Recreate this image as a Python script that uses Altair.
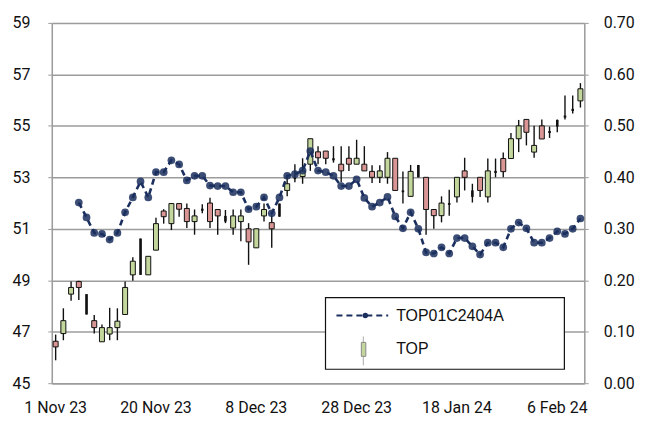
import altair as alt
import pandas as pd

# ---- data ----
dates = ["1 Nov 23", "2 Nov 23", "3 Nov 23", "6 Nov 23", "7 Nov 23", "8 Nov 23", "9 Nov 23", "10 Nov 23",
         "13 Nov 23", "14 Nov 23", "15 Nov 23", "16 Nov 23", "17 Nov 23", "20 Nov 23", "21 Nov 23", "22 Nov 23",
         "23 Nov 23", "24 Nov 23", "27 Nov 23", "28 Nov 23", "29 Nov 23", "30 Nov 23", "1 Dec 23", "4 Dec 23",
         "6 Dec 23", "7 Dec 23", "8 Dec 23", "12 Dec 23", "13 Dec 23", "14 Dec 23", "15 Dec 23", "18 Dec 23",
         "19 Dec 23", "20 Dec 23", "21 Dec 23", "22 Dec 23", "25 Dec 23", "26 Dec 23", "27 Dec 23", "28 Dec 23",
         "2 Jan 24", "3 Jan 24", "4 Jan 24", "5 Jan 24", "8 Jan 24", "9 Jan 24", "10 Jan 24", "11 Jan 24",
         "12 Jan 24", "15 Jan 24", "16 Jan 24", "17 Jan 24", "18 Jan 24", "19 Jan 24", "22 Jan 24", "23 Jan 24",
         "24 Jan 24", "25 Jan 24", "26 Jan 24", "29 Jan 24", "30 Jan 24", "31 Jan 24", "1 Feb 24", "2 Feb 24",
         "5 Feb 24", "6 Feb 24", "7 Feb 24", "8 Feb 24", "9 Feb 24"]

tick_labels = ["1 Nov 23", "20 Nov 23", "8 Dec 23", "28 Dec 23", "18 Jan 24", "6 Feb 24"]

opens = [46.63, 46.93, 48.46, 48.95, 48.46, 47.43, 46.61, 46.91, 47.16, 47.67,
         49.21, 50.62, 49.21, 50.17, 51.69, 51.20, 51.98, 51.79, 51.28, 51.78,
         52.00, 51.75, 51.50, 51.03, 51.28, 51.00, 50.26, 51.50, 51.24, 51.98,
         52.49, 53.00, 53.03, 53.51, 53.99, 54.02, 53.74, 53.51, 53.74, 53.51,
         53.51, 53.23, 53.00, 53.00, 53.74, 52.49, 52.26, 53.48, 53.00, 51.75,
         51.51, 52.00, 52.24, 53.25, 52.49, 53.00, 52.24, 53.25, 53.73, 53.73,
         54.50, 55.25, 53.98, 55.00, 54.80, 55.23, 55.40, 55.66, 55.97]
highs = [46.89, 47.91, 48.95, 48.98, 48.46, 47.65, 47.28, 47.93, 47.91, 48.95,
         49.89, 50.62, 49.93, 51.43, 51.76, 51.98, 51.98, 51.98, 51.75, 51.95,
         52.21, 51.75, 51.73, 51.75, 51.75, 51.22, 51.00, 51.98, 51.50, 51.98,
         53.00, 53.51, 53.74, 54.50, 54.21, 54.02, 54.21, 54.21, 54.21, 54.46,
         54.21, 53.47, 53.47, 53.98, 53.74, 53.23, 53.48, 53.48, 53.00, 51.75,
         52.26, 52.52, 53.00, 53.76, 52.75, 53.00, 53.73, 53.73, 53.96, 54.72,
         55.23, 55.25, 55.00, 55.25, 54.97, 55.25, 56.18, 56.18, 56.66]
lows = [45.89, 46.67, 48.20, 48.23, 47.67, 46.93, 46.60, 46.67, 46.67, 47.67,
        48.98, 49.21, 49.21, 50.17, 51.20, 50.95, 51.47, 51.03, 50.77, 51.60,
        51.03, 50.77, 51.22, 50.77, 50.52, 49.60, 50.26, 51.28, 50.26, 51.47,
        52.26, 52.81, 52.75, 53.25, 53.51, 53.51, 53.57, 52.81, 53.25, 53.51,
        53.25, 52.78, 52.78, 52.75, 52.49, 51.98, 52.26, 53.00, 50.77, 51.00,
        51.25, 51.51, 52.02, 52.49, 52.02, 52.24, 52.02, 53.00, 53.00, 53.73,
        53.98, 54.24, 53.76, 54.49, 54.53, 54.75, 55.25, 55.48, 55.71]
closes = [46.41, 47.43, 48.72, 48.72, 47.67, 47.16, 47.16, 47.16, 47.41, 48.72,
          49.74, 49.21, 49.93, 51.20, 51.47, 51.98, 51.76, 51.28, 51.50, 51.70,
          51.28, 51.50, 51.28, 51.50, 51.50, 50.49, 51.00, 51.75, 51.00, 51.47,
          52.75, 52.93, 53.25, 54.50, 53.76, 53.74, 53.66, 53.25, 53.51, 53.74,
          53.25, 53.00, 53.25, 53.74, 52.49, 52.42, 53.23, 53.00, 51.75, 51.51,
          52.00, 51.93, 53.00, 53.00, 52.24, 52.49, 53.25, 53.17, 53.22, 54.50,
          55.00, 54.75, 54.24, 54.49, 54.72, 54.97, 55.32, 55.58, 56.44]
moves = ["d", "u", "u", "d", "n", "d", "u", "u", "u", "u",
         "u", "n", "u", "u", "d", "u", "d", "d", "u", "n",
         "d", "d", "n", "u", "u", "d", "u", "u", "d", "n",
         "u", "n", "u", "u", "d", "d", "n", "d", "d", "u",
         "d", "d", "u", "u", "d", "n", "u", "n", "d", "d",
         "u", "n", "u", "d", "n", "d", "u", "n", "d", "u",
         "u", "d", "u", "d", "n", "n", "n", "n", "u"]
warrant = [None, None, None, 0.351, 0.322, 0.292, 0.290, 0.279, 0.292, 0.332,
           0.361, 0.392, 0.361, 0.410, 0.410, 0.433, 0.425, 0.394, 0.403, 0.403,
           0.384, 0.383, 0.383, 0.371, 0.371, 0.338, 0.343, 0.361, 0.330, 0.361,
           0.403, 0.406, 0.413, 0.451, 0.413, 0.410, 0.403, 0.383, 0.383, 0.396,
           0.360, 0.343, 0.351, 0.362, 0.324, 0.301, 0.332, 0.300, 0.254, 0.252,
           0.264, 0.252, 0.282, 0.282, 0.266, 0.250, 0.273, 0.273, 0.264, 0.300,
           0.312, 0.301, 0.273, 0.273, 0.282, 0.295, 0.290, 0.300, 0.320]

series_names = ["TOP01C2404A", "TOP"]

df = pd.DataFrame({"d": dates, "o": opens, "h": highs, "l": lows, "c": closes,
                   "m": moves, "w": warrant})

FONT_AX = "Roboto"
FONT_LG = "Liberation Sans"
GRID = "#9c9c9c"
NAVY = "#1b2f5e"
GREEN = "#c3d69b"
PINK = "#d99694"

W, H = 535, 362

x_enc = alt.X("d:O", sort=None,
              scale=alt.Scale(paddingInner=0, paddingOuter=0),
              axis=alt.Axis(values=tick_labels, labelAngle=0, ticks=False, title=None,
                            domainColor=GRID, domainWidth=1.5, labelPadding=16,
                            labelFont=FONT_AX, labelFontSize=16, labelColor="#111111"))

yl_scale = alt.Scale(domain=[45, 59], nice=False, zero=False)
yl_axis = alt.Axis(values=list(range(45, 60, 2)), title=None, grid=True, gridColor=GRID,
                   gridWidth=1.5, domainColor=GRID, domainWidth=1.5, tickColor=GRID,
                   tickSize=4, labelPadding=18, labelFont=FONT_AX, labelFontSize=16,
                   labelColor="#111111")

base = alt.Chart(df)

wick = base.mark_rule(color="#111111", strokeWidth=1.4).encode(
    x=x_enc,
    y=alt.Y("l:Q", scale=yl_scale, axis=yl_axis),
    y2="h:Q")

body_ud = base.transform_filter(alt.datum.m != "n").mark_bar(
    width=5, stroke="#111111", strokeWidth=1).encode(
    x=x_enc,
    y=alt.Y("o:Q", scale=yl_scale, axis=yl_axis),
    y2="c:Q",
    color=alt.Color("m:N", scale=alt.Scale(domain=["u", "d"], range=[GREEN, PINK]), legend=None))

body_n = base.transform_filter(alt.datum.m == "n").mark_bar(
    width=2.6, color="#111111").encode(
    x=x_enc,
    y=alt.Y("o:Q", scale=yl_scale, axis=yl_axis),
    y2="c:Q")

candles = alt.layer(wick, body_ud, body_n)

yr_scale = alt.Scale(domain=[0, 0.7], nice=False, zero=False)
yr_axis = alt.Axis(values=[0, 0.1, 0.2, 0.3, 0.4, 0.5, 0.6, 0.7], format=".2f", orient="right",
                   title=None, grid=False, domainColor=GRID, domainWidth=1.5, tickColor=GRID,
                   tickSize=4, labelPadding=15, labelFont=FONT_AX, labelFontSize=16,
                   labelColor="#111111")

wline = base.mark_line(color=NAVY, strokeWidth=2.6, strokeDash=[6, 4]).encode(
    x=x_enc, y=alt.Y("w:Q", scale=yr_scale, axis=yr_axis))
wpts = base.mark_circle(color=NAVY, size=60, opacity=0.85).encode(
    x=x_enc, y=alt.Y("w:Q", scale=yr_scale, axis=yr_axis))

warr = alt.layer(wline, wpts)

# ---- legend box (drawn in pixels of the plot area) ----
one = pd.DataFrame({"a": [0]})
lg_box = alt.Chart(one).mark_rect(fill="white", stroke="#111111", strokeWidth=1.2).encode(
    x=alt.value(275), x2=alt.value(515), y=alt.value(276), y2=alt.value(348))
lg_line = alt.Chart(one).mark_rule(color=NAVY, strokeWidth=2, strokeDash=[6, 4]).encode(
    x=alt.value(286), x2=alt.value(338), y=alt.value(294))
lg_dot = alt.Chart(one).mark_circle(color=NAVY, size=30, opacity=1).encode(
    x=alt.value(315), y=alt.value(294))
lg_wick = alt.Chart(one).mark_rule(color="#aaaaaa", strokeWidth=1).encode(
    x=alt.value(313), y=alt.value(315), y2=alt.value(344))
lg_body = alt.Chart(one).mark_rect(fill=GREEN, stroke="#888888", strokeWidth=1).encode(
    x=alt.value(311), x2=alt.value(315.5), y=alt.value(321), y2=alt.value(335))
lg_txt = alt.Chart(pd.DataFrame({"t": series_names, "yy": [295, 328]})).mark_text(
    align="left", baseline="middle", font=FONT_LG, fontSize=16, color="#111111").encode(
    x=alt.value(346), y=alt.Y("yy:Q", scale=None), text="t:N")

legend = alt.layer(lg_box, lg_line, lg_dot, lg_wick, lg_body, lg_txt)

chart = alt.layer(candles, warr, legend).resolve_scale(y="independent").properties(
    width=W, height=H,
    padding={"left": 44, "top": 14, "right": 60, "bottom": 36},
    autosize=alt.AutoSizeParams(type="none"),
).configure_view(stroke=None).configure(background="white")

chart.save("out.html", embed_options={"renderer": "svg", "actions": False})
